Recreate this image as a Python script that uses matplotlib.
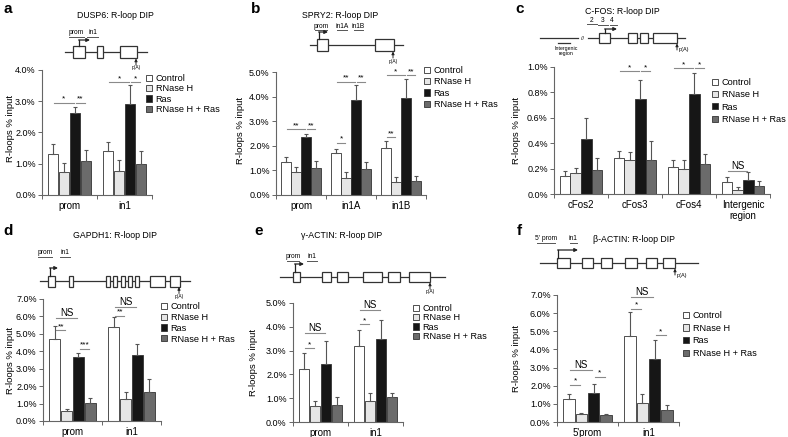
import numpy as np
import matplotlib.pyplot as plt
from matplotlib.patches import Rectangle

plt.rcParams['font.family'] = ['Liberation Sans', 'DejaVu Sans']

conditions = ['Control', 'RNase H', 'Ras', 'RNase H + Ras']
colors = ['white', '#e6e6e6', '#161616', '#6b6b6b']

# panel a: DUSP6
a_groups = ['prom', 'in1']
a_mean = [[1.30, 0.75, 2.62, 1.10], [1.42, 0.78, 2.92, 1.00]]
a_err = [[0.32, 0.28, 0.20, 0.35], [0.26, 0.34, 0.60, 0.40]]
a_sig = [(0, 0, 2, 2.95, '*'), (0, 2, 3, 2.95, '**'), (1, 0, 2, 3.6, '*'), (1, 2, 3, 3.6, '*')]

# panel b: SPRY2
b_groups = ['prom', 'in1A', 'in1B']
b_mean = [[1.33, 0.92, 2.37, 1.10], [1.72, 0.68, 3.88, 1.05], [1.93, 0.52, 3.95, 0.55]]
b_err = [[0.22, 0.20, 0.09, 0.30], [0.17, 0.24, 0.60, 0.31], [0.27, 0.20, 0.75, 0.22]]
b_sig = [(0, 0, 2, 2.68, '**'), (0, 2, 3, 2.68, '**'), (1, 0, 1, 2.12, '*'), (1, 0, 2, 4.6, '**'),
         (1, 2, 3, 4.6, '**'), (2, 0, 1, 2.36, '**'), (2, 0, 2, 4.86, '*'), (2, 2, 3, 4.86, '**')]

# panel c: C-FOS
c_groups = ['cFos2', 'cFos3', 'cFos4', 'Intergenic\nregion']
c_mean = [[0.145, 0.165, 0.43, 0.19], [0.28, 0.265, 0.745, 0.265],
          [0.215, 0.20, 0.785, 0.238], [0.092, 0.03, 0.108, 0.06]]
c_err = [[0.035, 0.037, 0.17, 0.095], [0.055, 0.065, 0.15, 0.155],
         [0.05, 0.068, 0.165, 0.078], [0.045, 0.027, 0.065, 0.04]]
c_sig = [(1, 0, 2, 0.965, '*'), (1, 2, 3, 0.965, '*'), (2, 0, 2, 0.99, '*'), (2, 2, 3, 0.99, '*'),
         (3, 0, 2, 0.18, 'NS')]

# panel d: GAPDH1
d_groups = ['prom', 'in1']
d_mean = [[4.70, 0.58, 3.65, 1.02], [5.38, 1.27, 3.80, 1.65]]
d_err = [[0.75, 0.10, 0.23, 0.31], [0.57, 0.41, 0.62, 0.75]]
d_sig = [(0, 0, 2, 5.9, 'NS'), (0, 0, 1, 5.2, '**'), (0, 2, 3, 4.15, '***'),
         (1, 0, 2, 6.55, 'NS'), (1, 0, 1, 6.05, '**')]

# panel e: gamma-ACTIN
e_groups = ['prom', 'in1']
e_mean = [[2.22, 0.68, 2.42, 0.72], [3.18, 0.88, 3.50, 1.03]]
e_err = [[0.70, 0.20, 1.00, 0.32], [0.68, 0.32, 0.80, 0.18]]
e_sig = [(0, 0, 2, 3.75, 'NS'), (0, 0, 1, 3.1, '*'), (1, 0, 2, 4.7, 'NS'), (1, 0, 1, 4.1, '*')]

# panel f: beta-ACTIN
f_groups = ["5'prom", 'in1']
f_mean = [[1.28, 0.42, 1.62, 0.38], [4.75, 1.02, 3.50, 0.65]]
f_err = [[0.27, 0.05, 0.50, 0.08], [1.30, 0.50, 1.00, 0.30]]
f_sig = [(0, 0, 2, 2.85, 'NS'), (0, 0, 1, 2.05, '*'), (0, 2, 3, 2.5, '*'),
         (1, 0, 2, 6.9, 'NS'), (1, 0, 1, 6.25, '*'), (1, 2, 3, 4.8, '*')]

W, H = 788, 437
fig = plt.figure(figsize=(W / 100, H / 100), dpi=100)
ov = fig.add_axes([0, 0, 1, 1])
ov.set_xlim(0, W)
ov.set_ylim(H, 0)
ov.axis('off')

AX = '#666666'


def panel(box, groups, means, errs, top, step, sigs, leg_xy, leg_sp):
    l, r, t, b = box
    ax = fig.add_axes([l / W, 1 - b / H, (r - l) / W, (b - t) / H])
    n = len(groups)
    x = np.arange(n)
    means = np.array(means)
    errs = np.array(errs)
    handles = []
    for k in range(4):
        xs = x + (k - 1.5) * 0.2
        h = ax.bar(xs, means[:, k], 0.19, color=colors[k], edgecolor='#333333',
                   linewidth=0.6, zorder=2)
        ax.errorbar(xs, means[:, k], yerr=[np.zeros(n), errs[:, k]], fmt='none',
                    ecolor='#555555', elinewidth=0.8, capsize=1.6, capthick=0.8, zorder=3)
        handles.append(h)
    for g, i, j, y, txt in sigs:
        xa = g + (i - 1.5) * 0.2 + 0.02
        xb = g + (j - 1.5) * 0.2 - 0.02
        ax.plot([xa, xb], [y, y], color='#8a8a8a', lw=0.8, clip_on=False, zorder=4)
        if txt == 'NS':
            ax.text((xa + xb) / 2, y, txt, ha='center', va='bottom', fontsize=7, zorder=4)
        else:
            ax.text((xa + xb) / 2, y, txt, ha='center', va='bottom', fontsize=6, zorder=4)
    ax.set_xlim(-0.5, n - 0.5)
    ax.set_ylim(0, top)
    ax.set_yticks(np.arange(0, top + step / 2, step))
    ax.set_yticklabels(['%.1f%%' % v for v in np.arange(0, top + step / 2, step)])
    ax.set_xticks(x)
    ax.set_xticklabels(groups)
    ax.set_xticks(np.arange(-0.5, n, 1), minor=True)
    ax.tick_params(axis='x', which='major', length=0, labelsize=7, pad=4)
    ax.tick_params(axis='x', which='minor', length=3, width=0.7, color=AX, direction='out')
    ax.tick_params(axis='y', length=3, width=0.7, color=AX, direction='out', labelsize=6.5, pad=1.5)
    for s in ['top', 'right']:
        ax.spines[s].set_visible(False)
    for s in ['left', 'bottom']:
        ax.spines[s].set_color(AX)
        ax.spines[s].set_linewidth(0.8)
    ax.legend(handles, conditions, loc='upper left',
              bbox_to_anchor=(leg_xy[0] / W, 1 - leg_xy[1] / H), bbox_transform=fig.transFigure,
              frameon=False, fontsize=6.6, handlelength=0.65, handleheight=0.65,
              handletextpad=0.4, labelspacing=leg_sp, borderpad=0, borderaxespad=0)
    return ax


def gene(y, x0, x1, exons, tss, pa, labels, h=11, pa_side=False):
    lw = 0.9
    ov.plot([x0, x1], [y, y], color='#333333', lw=lw, zorder=2)
    for xa, xb in exons:
        ov.add_patch(Rectangle((xa, y - h / 2), xb - xa, h, facecolor='white',
                               edgecolor='#333333', lw=lw, zorder=3))
    tx, ty, tend = tss
    ov.plot([tx, tx], [y - h / 2, ty], color='#222222', lw=lw, zorder=4)
    ov.annotate('', xy=(tend, ty), xytext=(tx - 0.4, ty),
                arrowprops=dict(arrowstyle='-|>', lw=lw, color='#222222', mutation_scale=5,
                                shrinkA=0, shrinkB=0), zorder=4)
    ov.annotate('', xy=(pa, y + h / 2 + 0.5), xytext=(pa, y + h / 2 + 7),
                arrowprops=dict(arrowstyle='-|>', lw=0.7, color='#222222', mutation_scale=4,
                                shrinkA=0, shrinkB=0))
    if pa_side:
        ov.text(pa + 2, y + h / 2 + 7, 'p(A)', fontsize=4, ha='left', va='center')
    else:
        ov.text(pa, y + h / 2 + 10, 'p(A)', fontsize=3.5, ha='center', va='center')
    for txt, xc, la, lb, ty_txt, ty_line in labels:
        ov.text(xc, ty_txt, txt, fontsize=4.8, ha='center', va='center')
        ov.plot([la, lb], [ty_line, ty_line], color='#555555', lw=0.7)


# bar panels (pixel boxes: left, right, top, bottom)
panel((42, 152, 70, 195), a_groups, a_mean, a_err, 4, 1, a_sig, (146, 74), 0.15)
panel((276, 426, 72, 195), b_groups, b_mean, b_err, 5, 1, b_sig, (424, 66), 0.26)
panel((554, 770, 67, 194), c_groups, c_mean, c_err, 1.0, 0.2, c_sig, (712, 78), 0.36)
panel((43, 161, 299, 421), d_groups, d_mean, d_err, 7, 1, d_sig, (161, 302), 0.2)
panel((293, 403, 303, 422), e_groups, e_mean, e_err, 5, 1, e_sig, (413, 304), 0.04)
panel((557, 679, 295, 422), f_groups, f_mean, f_err, 7, 1, f_sig, (683, 311), 0.4)

# titles, panel letters, y labels
titles = [(115, 15, 'DUSP6: R-loop DIP'), (340, 15, 'SPRY2: R-loop DIP'),
          (622, 12, 'C-FOS: R-loop DIP'), (115, 235, 'GAPDH1: R-loop DIP'),
          (342, 235, '\u03b3-ACTIN: R-loop DIP'), (634, 240, '\u03b2-ACTIN: R-loop DIP')]
for x, y, s in titles:
    ov.text(x, y, s, fontsize=6.3, ha='center', va='center')
for x, y, s in [(8, 9, 'a'), (256, 9, 'b'), (520, 9, 'c'), (8, 231, 'd'), (259, 231, 'e'), (519, 231, 'f')]:
    ov.text(x, y, s, fontsize=11, fontweight='bold', ha='center', va='center')
for x, y in [(11, 128), (241, 130), (517, 130), (11, 360), (253, 362), (517, 358)]:
    ov.text(x, y, 'R-loops % input', fontsize=6.8, rotation=90, ha='center', va='center')

# gene schematics
gene(52, 65, 147, [(73, 85), (97, 103), (120, 137)], (79, 40, 90), 136,
     [('prom', 76, 69, 84, 33, 37), ('in1', 93, 87, 98, 33, 37)], h=12)
gene(45, 310, 403, [(317, 328), (375, 394)], (319, 32, 328), 393,
     [('prom', 321, 315, 327, 27, 30), ('in1A', 342, 337, 347, 27, 30),
      ('in1B', 358, 354, 363, 27, 30)], h=12)
gene(38, 540, 685, [(599, 610), (628, 637), (640, 648), (653, 677)], (605, 29, 617), 677,
     [('2', 592, 587, 597, 20, 24), ('3', 603, 598, 608, 20, 25), ('4', 612, 610, 617, 20, 25)],
     h=10, pa_side=True)
ov.plot([580, 586], [38, 38], color='white', lw=2, zorder=2.5)
ov.text(583, 38, '//', fontsize=4, ha='center', va='center', zorder=3)
ov.plot([558, 570], [43, 43], color='#333333', lw=0.9)
ov.text(566, 51, 'Intergenic\nregion', fontsize=3.8, ha='center', va='center', linespacing=1.1)
gene(281, 40, 190, [(48, 55), (69, 73), (106, 110), (113, 117), (121, 125), (128, 132),
                    (135, 139), (150, 165), (170, 180)], (50, 268, 58), 179,
     [('prom', 45, 38, 52, 253, 257), ('in1', 65, 60, 70, 253, 257)], h=11)
gene(277, 280, 445, [(293, 300), (322, 331), (337, 348), (363, 382), (388, 400), (409, 430)],
     (295, 264, 304), 430,
     [('prom', 293, 287, 299, 257, 261), ('in1', 312, 307, 317, 257, 261)], h=10)
gene(263, 540, 698, [(557, 570), (582, 593), (601, 612), (625, 637), (646, 657), (663, 675)],
     (558, 250, 578), 675,
     [("5' prom", 546, 537, 555, 238, 243), ('in1', 573, 570, 577, 238, 243)], h=10, pa_side=True)

fig.savefig('out.png', dpi=100)
